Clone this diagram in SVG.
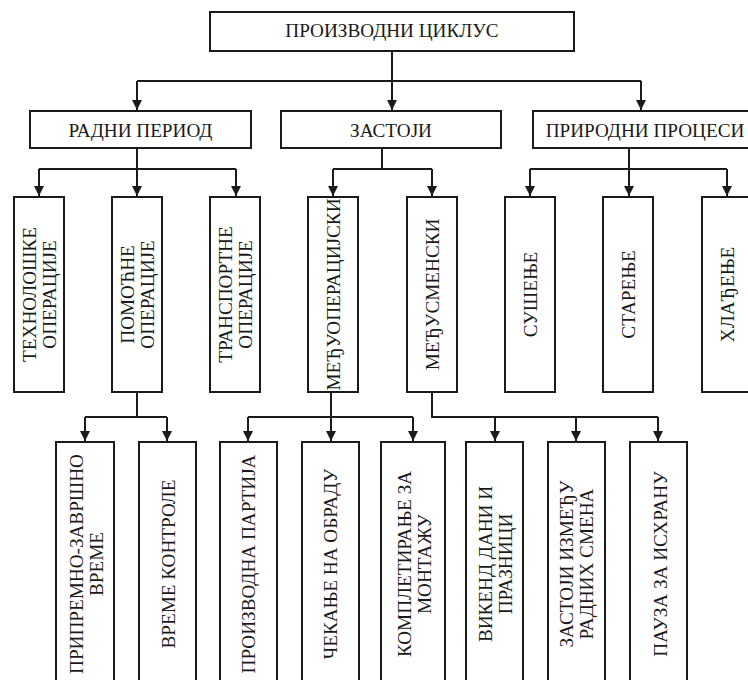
<svg xmlns="http://www.w3.org/2000/svg" width="748" height="680" viewBox="0 0 748 680">
<style>
.b{fill:#fff;stroke:#1a1a1a;stroke-width:2}
.c{fill:none;stroke:#1a1a1a;stroke-width:2}
.t{font-family:"Liberation Serif","Times New Roman",serif;font-size:19.2px;fill:#1a1a1a;text-anchor:middle}
</style>
<defs>
<marker id="ar" markerUnits="userSpaceOnUse" markerWidth="10" markerHeight="10" refX="10" refY="5" orient="auto">
<path d="M0,0 L10,5 L0,10 z" fill="#1a1a1a"/>
</marker>
</defs>
<rect width="748" height="680" fill="#fff"/>
<g id="connectors">
<path class="c" d="M392,51 V110" marker-end="url(#ar)"/>
<path class="c" d="M137,81 H641"/>
<path class="c" d="M137,81 V110" marker-end="url(#ar)"/>
<path class="c" d="M641,81 V110" marker-end="url(#ar)"/>
<path class="c" d="M137,148 V196" marker-end="url(#ar)"/>
<path class="c" d="M39,169 H236"/>
<path class="c" d="M39,169 V196" marker-end="url(#ar)"/>
<path class="c" d="M236,169 V196" marker-end="url(#ar)"/>
<path class="c" d="M382,148 V169"/>
<path class="c" d="M333,169 H432"/>
<path class="c" d="M333,169 V196" marker-end="url(#ar)"/>
<path class="c" d="M432,169 V196" marker-end="url(#ar)"/>
<path class="c" d="M629,148 V196" marker-end="url(#ar)"/>
<path class="c" d="M530,169 H727"/>
<path class="c" d="M530,169 V196" marker-end="url(#ar)"/>
<path class="c" d="M727,169 V196" marker-end="url(#ar)"/>
<path class="c" d="M137,392 V417"/>
<path class="c" d="M85,417 H167"/>
<path class="c" d="M85,417 V441" marker-end="url(#ar)"/>
<path class="c" d="M167,417 V441" marker-end="url(#ar)"/>
<path class="c" d="M331,392 V441" marker-end="url(#ar)"/>
<path class="c" d="M248,417 H413"/>
<path class="c" d="M248,417 V441" marker-end="url(#ar)"/>
<path class="c" d="M413,417 V441" marker-end="url(#ar)"/>
<path class="c" d="M432,392 V417 H658"/>
<path class="c" d="M495,417 V441" marker-end="url(#ar)"/>
<path class="c" d="M576,417 V441" marker-end="url(#ar)"/>
<path class="c" d="M658,417 V441" marker-end="url(#ar)"/>
</g>
<g id="n-ciklus"><rect class="b" x="210" y="12" width="364" height="39"/><text class="t" x="392" y="37">ПРОИЗВОДНИ ЦИКЛУС</text></g>
<g id="n-radni"><rect class="b" x="30" y="111" width="221" height="37"/><text class="t" x="140.5" y="136.5">РАДНИ ПЕРИОД</text></g>
<g id="n-zastoji"><rect class="b" x="281" y="111" width="220" height="37"/><text class="t" x="391" y="136.5">ЗАСТОЈИ</text></g>
<g id="n-prirodni"><rect class="b" x="533" y="111" width="224" height="37"/><text class="t" x="645" y="136.5">ПРИРОДНИ ПРОЦЕСИ</text></g>
<g id="n-tehno"><rect class="b" x="14" y="197" width="50" height="195"/><text class="t" transform="translate(39,294.5) rotate(-90)"><tspan x="0" y="-3.5">ТЕХНОЛОШКЕ</tspan><tspan x="0" y="16.5">ОПЕРАЦИЈЕ</tspan></text></g>
<g id="n-pomocne"><rect class="b" x="112" y="197" width="50" height="195"/><text class="t" transform="translate(137,294.5) rotate(-90)"><tspan x="0" y="-3.5">ПОМОЋНЕ</tspan><tspan x="0" y="16.5">ОПЕРАЦИЈЕ</tspan></text></g>
<g id="n-transport"><rect class="b" x="210" y="197" width="50" height="195"/><text class="t" transform="translate(235,294.5) rotate(-90)"><tspan x="0" y="-3.5">ТРАНСПОРТНЕ</tspan><tspan x="0" y="16.5">ОПЕРАЦИЈЕ</tspan></text></g>
<g id="n-medjuop"><rect class="b" x="308" y="197" width="50" height="195"/><text class="t" transform="translate(333,294.5) rotate(-90)" y="7">МЕЂУОПЕРАЦИЈСКИ</text></g>
<g id="n-medjusm"><rect class="b" x="407" y="197" width="50" height="195"/><text class="t" transform="translate(432,294.5) rotate(-90)" y="7">МЕЂУСМЕНСКИ</text></g>
<g id="n-susenje"><rect class="b" x="505" y="197" width="50" height="195"/><text class="t" transform="translate(530,294.5) rotate(-90)" y="6.5">СУШЕЊЕ</text></g>
<g id="n-starenje"><rect class="b" x="603" y="197" width="50" height="195"/><text class="t" transform="translate(628,294.5) rotate(-90)" y="6.5">СТАРЕЊЕ</text></g>
<g id="n-hladjenje"><rect class="b" x="702" y="197" width="50" height="195"/><text class="t" transform="translate(727,294.5) rotate(-90)" y="7">ХЛАЂЕЊЕ</text></g>
<g id="n-pripremno"><rect class="b" x="56" y="442" width="58" height="250"/><text class="t" transform="translate(85,564) rotate(-90)"><tspan x="0" y="-2.5">ПРИПРЕМНО-ЗАВРШНО</tspan><tspan x="0" y="17.5">ВРЕМЕ</tspan></text></g>
<g id="n-kontrole"><rect class="b" x="139" y="442" width="57" height="250"/><text class="t" transform="translate(167.5,564) rotate(-90)" y="7.5">ВРЕМЕ КОНТРОЛЕ</text></g>
<g id="n-partija"><rect class="b" x="220" y="442" width="57" height="250"/><text class="t" transform="translate(248.5,564) rotate(-90)" y="6.5">ПРОИЗВОДНА ПАРТИЈА</text></g>
<g id="n-cekanje"><rect class="b" x="302" y="442" width="57" height="250"/><text class="t" transform="translate(330.5,564) rotate(-90)" y="6.5">ЧЕКАЊЕ НА ОБРАДУ</text></g>
<g id="n-kompl"><rect class="b" x="381" y="442" width="64" height="250"/><text class="t" transform="translate(413,564) rotate(-90)"><tspan x="0" y="-2.5">КОМПЛЕТИРАЊЕ ЗА</tspan><tspan x="0" y="17.5">МОНТАЖУ</tspan></text></g>
<g id="n-vikend"><rect class="b" x="466" y="442" width="57" height="250"/><text class="t" transform="translate(494.5,564) rotate(-90)"><tspan x="0" y="-2.5">ВИКЕНД ДАНИ И</tspan><tspan x="0" y="17.5">ПРАЗНИЦИ</tspan></text></g>
<g id="n-smena"><rect class="b" x="548" y="442" width="57" height="250"/><text class="t" transform="translate(576.5,564) rotate(-90)"><tspan x="0" y="-3.5">ЗАСТОЈИ ИЗМЕЂУ</tspan><tspan x="0" y="16.5">РАДНИХ СМЕНА</tspan></text></g>
<g id="n-pauza"><rect class="b" x="630" y="442" width="57" height="250"/><text class="t" transform="translate(658.5,564) rotate(-90)" y="8">ПАУЗА ЗА ИСХРАНУ</text></g>
</svg>
